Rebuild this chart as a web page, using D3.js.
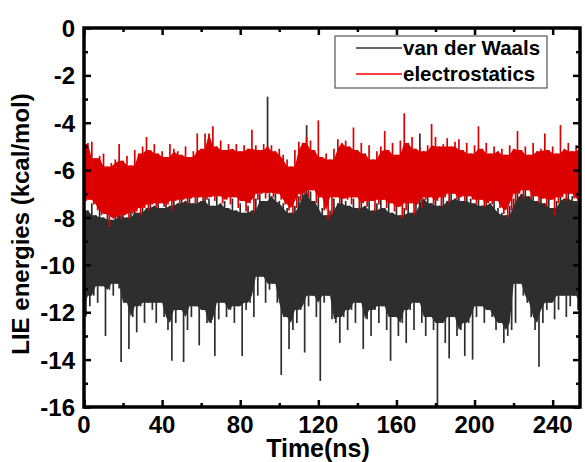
<!DOCTYPE html>
<meta charset="utf-8">
<style>
body { margin: 0; background: #fff; }
svg { font-family: "Liberation Sans", Arial, sans-serif; font-weight: bold; }
</style>
<script src="https://d3js.org/d3.v7.min.js"></script>
<svg width="585" height="462"></svg>
<script>
// envelope of each trace, one value per 2 ns bin (t = 0, 2, ... 254)
var vdwHi = [-7.5,-7.7,-7.4,-7.9,-7.6,-8.0,-7.7,-8.1,-7.8,-7.9,-7.6,-8.0,-7.7,-7.5,-7.8,-7.4,
  -7.6,-7.3,-7.5,-7.2,-7.6,-7.3,-7.5,-7.1,-7.4,-6.9,-7.3,-7.0,-7.4,-7.1,-7.3,-7.0,
  -7.2,-7.5,-7.1,-7.4,-7.3,-7.6,-7.2,-7.7,-7.4,-7.8,-7.5,-7.7,-7.2,-7.0,-7.3,-2.9,
  -7.1,-7.0,-7.3,-7.4,-7.6,-7.8,-7.5,-7.1,-6.9,-4.1,-6.9,-7.3,-7.1,-7.6,-7.9,-7.7,
  -7.2,-7.4,-7.1,-7.3,-7.5,-7.2,-7.6,-7.3,-7.5,-7.2,-7.7,-7.4,-7.2,-7.6,-7.3,-7.8,
  -7.5,-7.9,-7.6,-7.3,-7.8,-7.4,-4.45,-7.2,-7.1,-7.4,-7.2,-7.5,-7.1,-7.3,-6.9,-7.2,
  -7.1,-7.3,-7.0,-7.2,-7.4,-7.2,-7.5,-7.3,-7.4,-7.2,-7.6,-7.8,-7.9,-7.5,-7.2,-6.8,
  -7.0,-6.8,-7.1,-7.0,-7.3,-7.1,-7.4,-7.2,-7.6,-7.3,-7.1,-7.2,-6.9,-7.1,-7.3,-7.2];
var vdwLo = [-12.18,-11.75,-11.3,-11.6,-10.9,-13.0,-11.05,-11.3,-10.8,-14.1,-11.6,-13.55,-12.2,-12.85,-11.75,-12.45,
  -11.6,-11.9,-12.45,-11.6,-12.2,-12.75,-14.05,-12.45,-11.9,-14.1,-12.75,-12.2,-11.75,-13.4,-11.9,-12.45,
  -12.45,-13.85,-12.3,-11.6,-12.2,-11.9,-12.45,-11.75,-13.85,-11.9,-11.6,-12.2,-11.3,-10.5,-11.6,-11.05,
  -10.8,-11.6,-14.65,-12.2,-13.55,-12.75,-12.45,-11.9,-13.7,-11.75,-11.3,-12.2,-14.9,-11.6,-11.3,-12.3,
  -12.45,-13.3,-12.2,-12.75,-11.9,-12.45,-11.6,-13.55,-12.3,-13.0,-11.9,-12.45,-11.75,-12.75,-14.05,-12.2,
  -13.0,-12.45,-13.3,-11.9,-12.75,-11.6,-12.45,-13.0,-12.2,-12.75,-16.0,-12.45,-13.3,-13.95,-12.2,-13.0,
  -12.75,-13.85,-12.45,-14.0,-12.2,-11.75,-12.45,-11.9,-12.2,-12.75,-12.45,-13.3,-13.0,-12.75,-12.45,-10.8,
  -11.3,-11.6,-12.2,-12.75,-14.3,-12.45,-11.9,-11.6,-12.3,-11.9,-11.3,-12.2,-11.75,-11.3,-11.9,-11.6];
var elecHi = [-4.9,-4.85,-4.8,-5.5,-5.4,-5.3,-5.85,-5.7,-5.55,-4.9,-5.6,-5.4,-5.8,-5.15,-5.3,-5.0,
  -4.6,-5.15,-4.9,-5.3,-5.2,-5.45,-4.9,-5.1,-5.2,-5.35,-5.0,-5.45,-5.2,-4.45,-5.1,-4.45,
  -4.45,-4.15,-5.0,-4.75,-5.15,-4.9,-5.1,-4.9,-5.2,-4.95,-5.1,-4.3,-4.95,-5.15,-4.9,-5.0,
  -4.95,-5.2,-5.1,-5.35,-5.55,-5.85,-5.15,-4.8,-4.85,-4.6,-4.75,-5.15,-3.9,-5.45,-5.3,-5.55,
  -5.1,-4.7,-4.85,-4.75,-5.0,-4.2,-5.15,-4.85,-5.3,-4.95,-5.55,-5.2,-5.0,-4.35,-5.15,-4.85,
  -5.35,-4.75,-3.6,-4.85,-4.6,-5.1,-5.0,-5.2,-4.95,-4.05,-4.6,-5.0,-4.9,-4.65,-5.0,-4.8,
  -4.7,-5.15,-4.85,-5.3,-4.95,-4.15,-5.1,-4.85,-5.3,-5.0,-5.2,-5.1,-5.35,-4.95,-5.1,-4.35,
  -5.15,-5.0,-5.35,-4.85,-5.2,-5.1,-4.45,-5.15,-5.0,-5.3,-4.1,-5.1,-4.85,-5.2,-4.95,-5.1];
var elecLo = [-7.3,-7.25,-7.45,-7.7,-7.9,-7.85,-8.4,-8.05,-8.0,-8.1,-7.9,-8.05,-7.85,-7.75,-7.9,-7.6,
  -7.7,-7.45,-7.6,-7.4,-7.55,-7.45,-7.7,-7.3,-7.4,-7.25,-7.45,-7.2,-7.4,-7.15,-7.3,-7.25,
  -7.15,-7.3,-7.1,-7.4,-7.25,-7.45,-7.15,-7.6,-7.3,-7.75,-7.4,-7.8,-7.25,-7.0,-7.2,-6.95,
  -7.15,-7.0,-7.25,-7.45,-7.7,-7.85,-7.6,-7.3,-7.0,-7.15,-6.85,-7.4,-7.15,-7.7,-8.1,-7.9,
  -7.15,-7.4,-7.2,-7.25,-7.45,-7.15,-7.7,-7.4,-7.55,-7.3,-7.75,-7.45,-7.25,-7.6,-7.4,-7.75,
  -7.55,-8.05,-7.7,-7.4,-7.9,-7.45,-7.6,-7.25,-7.15,-7.45,-7.3,-7.55,-7.15,-7.4,-7.0,-7.25,
  -7.15,-7.3,-7.1,-7.25,-7.45,-7.25,-7.55,-7.4,-7.45,-7.3,-7.6,-7.85,-8.0,-7.7,-7.4,-7.0,
  -7.2,-6.85,-7.25,-7.1,-7.4,-7.2,-7.55,-7.25,-7.9,-7.4,-7.15,-7.3,-7.0,-7.2,-7.4,-7.25];

var xTicks = [0, 40, 80, 120, 160, 200, 240];
var yTicks = [0, -2, -4, -6, -8, -10, -12, -14, -16];
var seriesNames = ["van der Waals", "electrostatics"];
var seriesColors = ["#2e2e2e", "#dd0000"];

var svg = d3.select("svg");
var plotL = 84, plotR = 580, plotT = 28, plotB = 407;

var x = d3.scaleLinear().domain([0, 254]).range([plotL, plotR]);
var y = d3.scaleLinear().domain([-16, 0]).range([plotB, plotT]);

svg.append("clipPath").attr("id", "plot")
  .append("rect").attr("x", plotL).attr("y", plotT)
  .attr("width", plotR - plotL).attr("height", plotB - plotT);

// dense part of a trace: the band every neighbouring bin also reaches
function core(hi, lo) {
  return hi.map(function(h, i) {
    var a = Math.max(0, i - 1), b = Math.min(hi.length, i + 2);
    return {
      t: 2 * i,
      top: d3.min(hi.slice(a, b)),
      bot: d3.max(lo.slice(a, b))
    };
  });
}

// needles out to each bin's extremes
function needles(hi, lo) {
  var out = [];
  hi.forEach(function(h, i) {
    out.push({ t: 2 * i, top: h, bot: (lo[i] + h) / 2 });
    out.push({ t: 2 * i + 1, top: (lo[i] + h) / 2, bot: lo[i] });
  });
  return out;
}

var area = d3.area()
    .x(function(d) { return x(d.t); })
    .y0(function(d) { return y(d.bot); })
    .y1(function(d) { return y(d.top); });

var series = [[vdwHi, vdwLo], [elecHi, elecLo]];

var plot = svg.append("g").attr("clip-path", "url(#plot)");

series.forEach(function(s, k) {
  var g = plot.append("g");
  g.append("path")
      .datum(core(s[0], s[1]))
      .attr("d", area)
      .attr("fill", seriesColors[k]);
  g.selectAll("line")
    .data(needles(s[0], s[1]))
    .enter().append("line")
      .attr("x1", function(d) { return x(d.t); })
      .attr("x2", function(d) { return x(d.t); })
      .attr("y1", function(d) { return y(d.top); })
      .attr("y2", function(d) { return y(d.bot); })
      .attr("stroke", seriesColors[k])
      .attr("stroke-width", 1.7);
});

// axes, ticks inside on all four sides
function addAxis(axis, tx, ty) {
  var g = svg.append("g").attr("transform", "translate(" + tx + "," + ty + ")").call(axis);
  g.select(".domain").remove();
  g.selectAll("line").attr("stroke", "#000").attr("stroke-width", 2.5);
  return g;
}

var xMinor = d3.range(20, 254, 40);
var yMinor = d3.range(-15, 0, 2);

addAxis(d3.axisBottom(x).tickValues(xTicks).tickSize(-7).tickFormat(""), 0, plotB);
addAxis(d3.axisBottom(x).tickValues(xMinor).tickSize(-4).tickFormat(""), 0, plotB);
addAxis(d3.axisTop(x).tickValues(xTicks).tickSize(-7).tickFormat(""), 0, plotT);
addAxis(d3.axisTop(x).tickValues(xMinor).tickSize(-4).tickFormat(""), 0, plotT);
addAxis(d3.axisLeft(y).tickValues(yTicks).tickSize(-7).tickFormat(""), plotL, 0);
addAxis(d3.axisLeft(y).tickValues(yMinor).tickSize(-4).tickFormat(""), plotL, 0);
addAxis(d3.axisRight(y).tickValues(yTicks).tickSize(-7).tickFormat(""), plotR, 0);
addAxis(d3.axisRight(y).tickValues(yMinor).tickSize(-4).tickFormat(""), plotR, 0);

svg.append("rect")
    .attr("x", plotL).attr("y", plotT)
    .attr("width", plotR - plotL).attr("height", plotB - plotT)
    .attr("fill", "none").attr("stroke", "#000").attr("stroke-width", 3.5);

svg.append("g").selectAll("text")
  .data(xTicks)
  .enter().append("text")
    .attr("x", function(d) { return x(d); })
    .attr("y", 433)
    .attr("text-anchor", "middle")
    .style("font-size", "24px")
    .text(function(d) { return d; });

svg.append("g").selectAll("text")
  .data(yTicks)
  .enter().append("text")
    .attr("x", 75)
    .attr("y", function(d) { return y(d) + 9; })
    .attr("text-anchor", "end")
    .style("font-size", "24px")
    .text(function(d) { return d; });

svg.append("text")
    .attr("x", 318).attr("y", 457)
    .attr("text-anchor", "middle")
    .style("font-size", "25px")
    .text("Time(ns)");

svg.append("text")
    .attr("transform", "translate(29,224) rotate(-90)")
    .attr("text-anchor", "middle")
    .style("font-size", "24px")
    .text("LIE energies (kcal/mol)");

// legend
var legend = svg.append("g");
legend.append("rect")
    .attr("x", 335).attr("y", 36).attr("width", 212).attr("height", 52)
    .attr("fill", "#fff").attr("stroke", "#555").attr("stroke-width", 1.2);

var item = legend.selectAll("g.item")
  .data(seriesNames)
  .enter().append("g")
    .attr("transform", function(d, i) { return "translate(0," + (48 + i * 26) + ")"; });

item.append("line")
    .attr("x1", 356).attr("x2", 402)
    .attr("stroke", function(d, i) { return i ? "#ff0000" : "#333"; })
    .attr("stroke-width", 1.5);

item.append("text")
    .attr("x", 403).attr("y", 7)
    .style("font-size", "20.5px")
    .text(function(d) { return d; });
</script>
